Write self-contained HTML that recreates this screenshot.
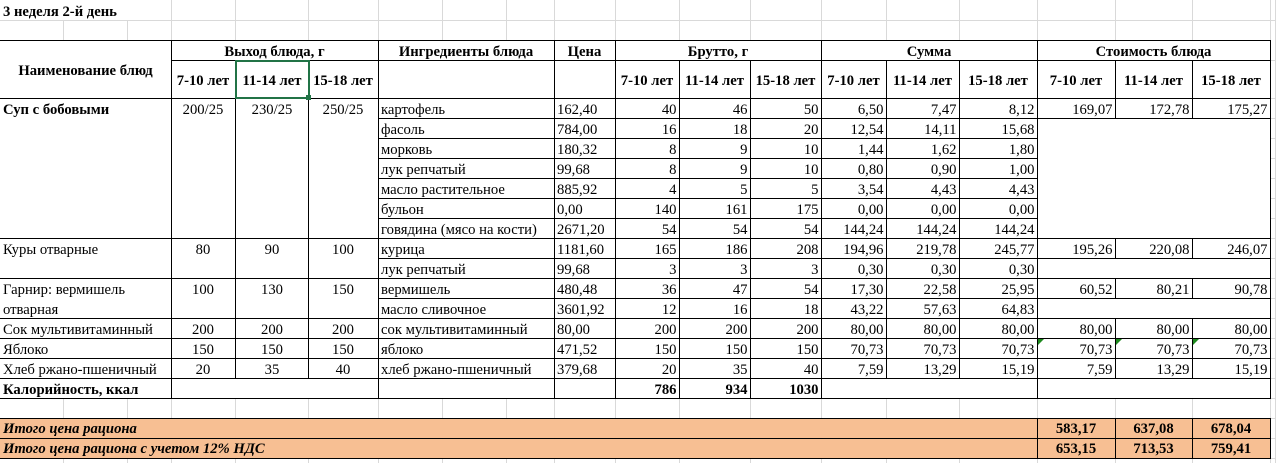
<!DOCTYPE html>
<html><head><meta charset="utf-8"><style>
html,body{margin:0;padding:0;background:#fff;width:1276px;height:463px;overflow:hidden;font-family:"Liberation Serif","Noto Serif CJK SC",serif}
svg{display:block;font-family:"Liberation Serif","Noto Serif CJK SC",serif}
svg text{font-family:"Liberation Serif","Noto Serif CJK SC",serif;font-size:14.67px;fill:#000}
.b{font-weight:bold}
.bi{font-weight:bold;font-style:italic}
.c{text-anchor:middle}
.r{text-anchor:end}
</style></head><body>
<svg width="1276" height="463" viewBox="0 0 1276 463" xmlns="http://www.w3.org/2000/svg" shape-rendering="crispEdges" font-family="Liberation Serif, Noto Serif CJK SC, serif" font-size="14.67">
<style>
text{font-family:"Liberation Serif","Noto Serif CJK SC",serif;font-size:14.67px;fill:#000}
.b{font-weight:bold}
.bi{font-weight:bold;font-style:italic}
.c{text-anchor:middle}
.r{text-anchor:end}
</style>
<rect x="0" y="418" width="1271" height="41" fill="#F7BF93"/>
<!-- gridlines -->
<path stroke="#D9D9D9" stroke-width="1" fill="none" d="
M0 20.5H1276
M63.5 20V40 M127.5 20V40
M171.5 0V40 M235.5 0V40 M308.5 0V40 M378.5 0V40 M442.5 0V40 M506.5 0V40 M554.5 0V40 M615.5 0V40 M679.5 0V40 M750.5 0V40 M821.5 0V40 M886.5 0V40 M959.5 0V40 M1037.5 0V40 M1115.5 0V40 M1192.5 0V40 M1270.5 0V40 M1275.5 0V463
M63.5 399V418 M127.5 399V418 M171.5 399V418 M235.5 399V418 M308.5 399V418 M378.5 399V418 M442.5 399V418 M506.5 399V418 M554.5 399V418 M615.5 399V418 M679.5 399V418 M750.5 399V418 M821.5 399V418 M886.5 399V418 M959.5 399V418 M1037.5 399V418 M1115.5 399V418 M1192.5 399V418 M1270.5 399V418
M63.5 459V463 M127.5 459V463 M171.5 459V463 M235.5 459V463 M308.5 459V463 M378.5 459V463 M442.5 459V463 M506.5 459V463 M554.5 459V463 M615.5 459V463 M679.5 459V463 M750.5 459V463 M821.5 459V463 M886.5 459V463 M959.5 459V463 M1037.5 459V463 M1115.5 459V463 M1192.5 459V463 M1270.5 459V463
M1271 60.5H1276 M1271 98.5H1276 M1271 118.5H1276 M1271 138.5H1276 M1271 158.5H1276 M1271 178.5H1276 M1271 198.5H1276 M1271 218.5H1276 M1271 238.5H1276 M1271 258.5H1276 M1271 278.5H1276 M1271 298.5H1276 M1271 318.5H1276 M1271 338.5H1276 M1271 358.5H1276 M1271 378.5H1276 M1271 398.5H1276 M1271 418.5H1276 M1271 438.5H1276 M1271 458.5H1276
"/>
<!-- black borders -->
<path stroke="#000" stroke-width="1" fill="none" d="
M0 40.5H1271 M171 60.5H1271 M0 98.5H1271
M378 118.5H1271 M378 138.5H1038 M378 158.5H1038 M378 178.5H1038 M378 198.5H1038 M378 218.5H1038
M0 238.5H1271 M378 258.5H1271 M0 278.5H1271 M378 298.5H1271 M0 318.5H1271 M0 338.5H1271 M0 358.5H1271 M0 378.5H1271
M0 398.5H1271 M0 418.5H1271 M0 438.5H1271 M0 458.5H1271
M171.5 40V399 M235.5 60V379 M308.5 60V379 M378.5 40V399 M554.5 40V399 M615.5 40V399
M679.5 60V399 M750.5 60V399 M821.5 40V399 M886.5 60V379 M959.5 60V379
M1037.5 40V399 M1037.5 418V459
M1115.5 60V119 M1115.5 238V259 M1115.5 278V299 M1115.5 318V379 M1115.5 418V459
M1192.5 60V119 M1192.5 238V259 M1192.5 278V299 M1192.5 318V379 M1192.5 418V459
M1270.5 40V399 M1270.5 418V459
"/>
<!-- error triangles -->
<polygon points="1038,339 1044,339 1038,345" fill="#1E8A1E" shape-rendering="auto"/>
<polygon points="1116,339 1122,339 1116,345" fill="#1E8A1E" shape-rendering="auto"/>
<polygon points="1193,339 1199,339 1193,345" fill="#1E8A1E" shape-rendering="auto"/>
<!-- selection -->
<rect x="236" y="61" width="73" height="37" fill="none" stroke="#217346" stroke-width="2"/>
<rect x="306" y="95" width="5" height="5" fill="#217346"/>

<g font-family="Liberation Serif, Noto Serif CJK SC, serif">
<!-- title -->
<text class="b" x="3" y="16">3 неделя 2-й день</text>

<!-- headers -->
<text class="b c" x="85.5" y="75">Наименование блюд</text>
<text class="b c" x="274.5" y="56">Выход блюда, г</text>
<text class="b c" x="466" y="56">Ингредиенты блюда</text>
<text class="b c" x="584.5" y="56">Цена</text>
<text class="b c" x="718" y="56">Брутто, г</text>
<text class="b c" x="929" y="56">Сумма</text>
<text class="b c" x="1153.5" y="56">Стоимость блюда</text>
<text class="b c" x="203" y="85">7-10 лет</text>
<text class="b c" x="272" y="85">11-14 лет</text>
<text class="b c" x="343" y="85">15-18 лет</text>
<text class="b c" x="647" y="85">7-10 лет</text>
<text class="b c" x="714.5" y="85">11-14 лет</text>
<text class="b c" x="785.5" y="85">15-18 лет</text>
<text class="b c" x="853.5" y="85">7-10 лет</text>
<text class="b c" x="922.5" y="85">11-14 лет</text>
<text class="b c" x="998" y="85">15-18 лет</text>
<text class="b c" x="1076" y="85">7-10 лет</text>
<text class="b c" x="1153.5" y="85">11-14 лет</text>
<text class="b c" x="1231" y="85">15-18 лет</text>

<!-- dishes -->
<text class="b" x="3" y="114">Суп с бобовыми</text>
<text class="c" x="203" y="114">200/25</text><text class="c" x="272" y="114">230/25</text><text class="c" x="343" y="114">250/25</text>
<text x="3" y="254">Куры отварные</text>
<text class="c" x="203" y="254">80</text><text class="c" x="272" y="254">90</text><text class="c" x="343" y="254">100</text>
<text x="3" y="294">Гарнир: вермишель</text>
<text x="3" y="314">отварная</text>
<text class="c" x="203" y="294">100</text><text class="c" x="272" y="294">130</text><text class="c" x="343" y="294">150</text>
<text x="3" y="334">Сок мультивитаминный</text>
<text class="c" x="203" y="334">200</text><text class="c" x="272" y="334">200</text><text class="c" x="343" y="334">200</text>
<text x="3" y="354">Яблоко</text>
<text class="c" x="203" y="354">150</text><text class="c" x="272" y="354">150</text><text class="c" x="343" y="354">150</text>
<text x="3" y="374">Хлеб ржано-пшеничный</text>
<text class="c" x="203" y="374">20</text><text class="c" x="272" y="374">35</text><text class="c" x="343" y="374">40</text>
<text class="b" x="3" y="394">Калорийность, ккал</text>

<!-- ingredients -->
<text x="381" y="114">картофель</text><text x="557" y="114">162,40</text>
<text class="r" x="676.5" y="114">40</text><text class="r" x="747.5" y="114">46</text><text class="r" x="818.5" y="114">50</text>
<text class="r" x="883.5" y="114">6,50</text><text class="r" x="956.5" y="114">7,47</text><text class="r" x="1034.5" y="114">8,12</text>
<text class="r" x="1112.5" y="114">169,07</text><text class="r" x="1189.5" y="114">172,78</text><text class="r" x="1267.5" y="114">175,27</text>

<text x="381" y="134">фасоль</text><text x="557" y="134">784,00</text>
<text class="r" x="676.5" y="134">16</text><text class="r" x="747.5" y="134">18</text><text class="r" x="818.5" y="134">20</text>
<text class="r" x="883.5" y="134">12,54</text><text class="r" x="956.5" y="134">14,11</text><text class="r" x="1034.5" y="134">15,68</text>

<text x="381" y="154">морковь</text><text x="557" y="154">180,32</text>
<text class="r" x="676.5" y="154">8</text><text class="r" x="747.5" y="154">9</text><text class="r" x="818.5" y="154">10</text>
<text class="r" x="883.5" y="154">1,44</text><text class="r" x="956.5" y="154">1,62</text><text class="r" x="1034.5" y="154">1,80</text>

<text x="381" y="174">лук репчатый</text><text x="557" y="174">99,68</text>
<text class="r" x="676.5" y="174">8</text><text class="r" x="747.5" y="174">9</text><text class="r" x="818.5" y="174">10</text>
<text class="r" x="883.5" y="174">0,80</text><text class="r" x="956.5" y="174">0,90</text><text class="r" x="1034.5" y="174">1,00</text>

<text x="381" y="194">масло растительное</text><text x="557" y="194">885,92</text>
<text class="r" x="676.5" y="194">4</text><text class="r" x="747.5" y="194">5</text><text class="r" x="818.5" y="194">5</text>
<text class="r" x="883.5" y="194">3,54</text><text class="r" x="956.5" y="194">4,43</text><text class="r" x="1034.5" y="194">4,43</text>

<text x="381" y="214">бульон</text><text x="557" y="214">0,00</text>
<text class="r" x="676.5" y="214">140</text><text class="r" x="747.5" y="214">161</text><text class="r" x="818.5" y="214">175</text>
<text class="r" x="883.5" y="214">0,00</text><text class="r" x="956.5" y="214">0,00</text><text class="r" x="1034.5" y="214">0,00</text>

<text x="381" y="234">говядина (мясо на кости)</text><text x="557" y="234">2671,20</text>
<text class="r" x="676.5" y="234">54</text><text class="r" x="747.5" y="234">54</text><text class="r" x="818.5" y="234">54</text>
<text class="r" x="883.5" y="234">144,24</text><text class="r" x="956.5" y="234">144,24</text><text class="r" x="1034.5" y="234">144,24</text>

<text x="381" y="254">курица</text><text x="557" y="254">1181,60</text>
<text class="r" x="676.5" y="254">165</text><text class="r" x="747.5" y="254">186</text><text class="r" x="818.5" y="254">208</text>
<text class="r" x="883.5" y="254">194,96</text><text class="r" x="956.5" y="254">219,78</text><text class="r" x="1034.5" y="254">245,77</text>
<text class="r" x="1112.5" y="254">195,26</text><text class="r" x="1189.5" y="254">220,08</text><text class="r" x="1267.5" y="254">246,07</text>

<text x="381" y="274">лук репчатый</text><text x="557" y="274">99,68</text>
<text class="r" x="676.5" y="274">3</text><text class="r" x="747.5" y="274">3</text><text class="r" x="818.5" y="274">3</text>
<text class="r" x="883.5" y="274">0,30</text><text class="r" x="956.5" y="274">0,30</text><text class="r" x="1034.5" y="274">0,30</text>

<text x="381" y="294">вермишель</text><text x="557" y="294">480,48</text>
<text class="r" x="676.5" y="294">36</text><text class="r" x="747.5" y="294">47</text><text class="r" x="818.5" y="294">54</text>
<text class="r" x="883.5" y="294">17,30</text><text class="r" x="956.5" y="294">22,58</text><text class="r" x="1034.5" y="294">25,95</text>
<text class="r" x="1112.5" y="294">60,52</text><text class="r" x="1189.5" y="294">80,21</text><text class="r" x="1267.5" y="294">90,78</text>

<text x="381" y="314">масло сливочное</text><text x="557" y="314">3601,92</text>
<text class="r" x="676.5" y="314">12</text><text class="r" x="747.5" y="314">16</text><text class="r" x="818.5" y="314">18</text>
<text class="r" x="883.5" y="314">43,22</text><text class="r" x="956.5" y="314">57,63</text><text class="r" x="1034.5" y="314">64,83</text>

<text x="381" y="334">сок мультивитаминный</text><text x="557" y="334">80,00</text>
<text class="r" x="676.5" y="334">200</text><text class="r" x="747.5" y="334">200</text><text class="r" x="818.5" y="334">200</text>
<text class="r" x="883.5" y="334">80,00</text><text class="r" x="956.5" y="334">80,00</text><text class="r" x="1034.5" y="334">80,00</text>
<text class="r" x="1112.5" y="334">80,00</text><text class="r" x="1189.5" y="334">80,00</text><text class="r" x="1267.5" y="334">80,00</text>

<text x="381" y="354">яблоко</text><text x="557" y="354">471,52</text>
<text class="r" x="676.5" y="354">150</text><text class="r" x="747.5" y="354">150</text><text class="r" x="818.5" y="354">150</text>
<text class="r" x="883.5" y="354">70,73</text><text class="r" x="956.5" y="354">70,73</text><text class="r" x="1034.5" y="354">70,73</text>
<text class="r" x="1112.5" y="354">70,73</text><text class="r" x="1189.5" y="354">70,73</text><text class="r" x="1267.5" y="354">70,73</text>

<text x="381" y="374">хлеб ржано-пшеничный</text><text x="557" y="374">379,68</text>
<text class="r" x="676.5" y="374">20</text><text class="r" x="747.5" y="374">35</text><text class="r" x="818.5" y="374">40</text>
<text class="r" x="883.5" y="374">7,59</text><text class="r" x="956.5" y="374">13,29</text><text class="r" x="1034.5" y="374">15,19</text>
<text class="r" x="1112.5" y="374">7,59</text><text class="r" x="1189.5" y="374">13,29</text><text class="r" x="1267.5" y="374">15,19</text>

<text class="b r" x="676.5" y="394">786</text><text class="b r" x="747.5" y="394">934</text><text class="b r" x="818.5" y="394">1030</text>

<!-- totals -->
<text class="bi" x="3" y="433">Итого цена рациона</text>
<text class="b c" x="1076" y="433">583,17</text><text class="b c" x="1153.5" y="433">637,08</text><text class="b c" x="1231" y="433">678,04</text>
<text class="bi" x="3" y="453">Итого цена рациона с учетом 12% НДС</text>
<text class="b c" x="1076" y="453">653,15</text><text class="b c" x="1153.5" y="453">713,53</text><text class="b c" x="1231" y="453">759,41</text>
</g>
</svg>
</body></html>
